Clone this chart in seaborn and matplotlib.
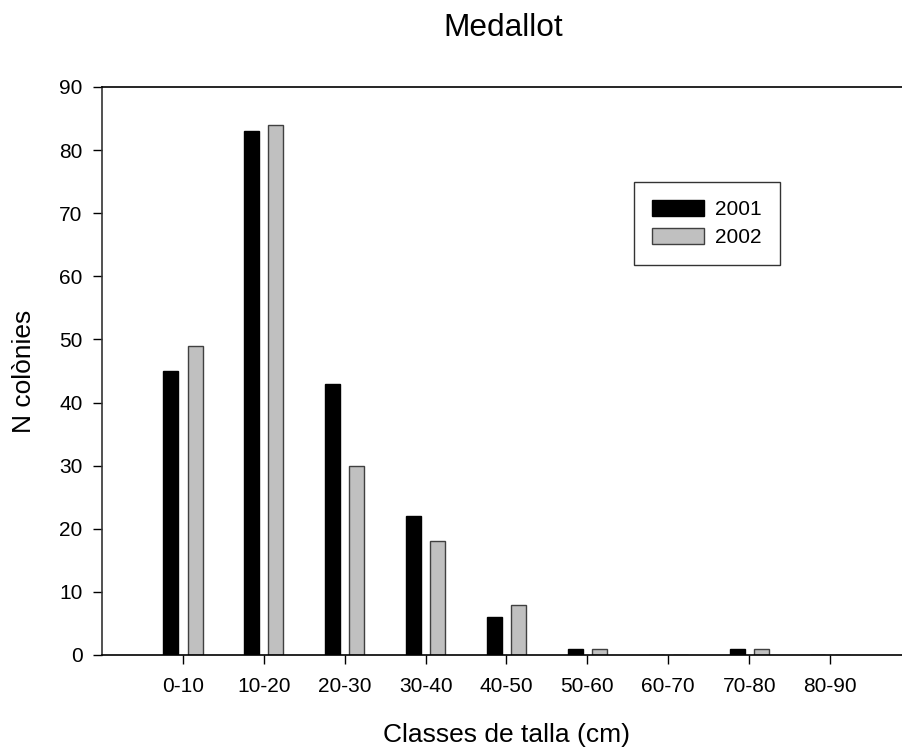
import matplotlib
matplotlib.use("Agg")
import matplotlib.pyplot as plt
import seaborn as sns
import pandas as pd
from matplotlib.patches import Patch

categories = ["0-10", "10-20", "20-30", "30-40", "40-50", "50-60", "60-70", "70-80", "80-90"]
values_2001 = [45, 83, 43, 22, 6, 1, 0, 1, 0]
values_2002 = [49, 84, 30, 18, 8, 1, 0, 1, 0]
years = ["2001", "2002"]
colors = {"2001": "#000000", "2002": "#c0c0c0"}
edges = {"2001": "#000000", "2002": "#404040"}

df = pd.DataFrame({
    "cat": categories * 2,
    "n": values_2001 + values_2002,
    "year": [years[0]] * len(categories) + [years[1]] * len(categories),
})

sns.set_theme(style="white")
plt.rcParams["font.family"] = ["Liberation Sans", "DejaVu Sans"]
for k in ["text.color", "axes.labelcolor", "xtick.color", "ytick.color"]:
    plt.rcParams[k] = "#000000"

fig = plt.figure(figsize=(9.03, 7.54), dpi=100)
W, H = 903, 754
ax = fig.add_axes([102 / W, 1 - 655 / H, (911 - 102) / W, (655 - 87) / H])

sns.barplot(data=df, x="cat", y="n", hue="year", order=categories, hue_order=years,
            palette=colors, width=0.6, gap=0.38, ax=ax, legend=False,
            linewidth=1.0, saturation=1)

n = len(categories)
for i, p in enumerate(ax.patches[:2 * n]):
    yr = years[i // n]
    p.set_edgecolor(edges[yr])
    p.set_linewidth(1.0)

ax.set_xlim(-1, 9)
ax.set_ylim(0, 90)
ax.set_yticks(range(0, 91, 10))
ax.tick_params(axis="both", which="both", direction="out", length=6.5, width=1,
               color="#000000", labelcolor="#000000", labelsize=15, pad=9,
               left=True, bottom=True)
ax.tick_params(axis="y", pad=7.5)

for s in ["left", "top", "bottom"]:
    ax.spines[s].set_visible(True)
    ax.spines[s].set_color("#000000")
    ax.spines[s].set_linewidth(1.2)
ax.spines["left"].set_color("#333333")
ax.spines["right"].set_visible(False)

ax.set_xlabel("Classes de talla (cm)", fontsize=19, color="#000000")
ax.set_ylabel("N colònies", fontsize=19, color="#000000")
ax.xaxis.set_label_coords(0.5, (655 - 723) / 568)
ax.yaxis.set_label_coords((36 - 102) / 809, 0.5)

fig.text(503 / W, 1 - 27.5 / H, "Medallot", fontsize=22.8, ha="center", va="center",
         color="#000000")

handles = [Patch(facecolor=colors[y], edgecolor=edges[y], linewidth=1.0, label=y) for y in years]
leg = ax.legend(handles=handles, loc="upper left", bbox_to_anchor=((634 - 102) / 809, (655 - 182) / 568),
                fontsize=15, frameon=True, fancybox=False, edgecolor="#000000",
                handlelength=2.5, handleheight=0.82, borderpad=0.85,
                labelspacing=0.42, handletextpad=0.56, borderaxespad=0)
leg.get_frame().set_linewidth(1.0)
for t in leg.get_texts():
    t.set_color("#000000")

fig.savefig("out.png", dpi=100)
